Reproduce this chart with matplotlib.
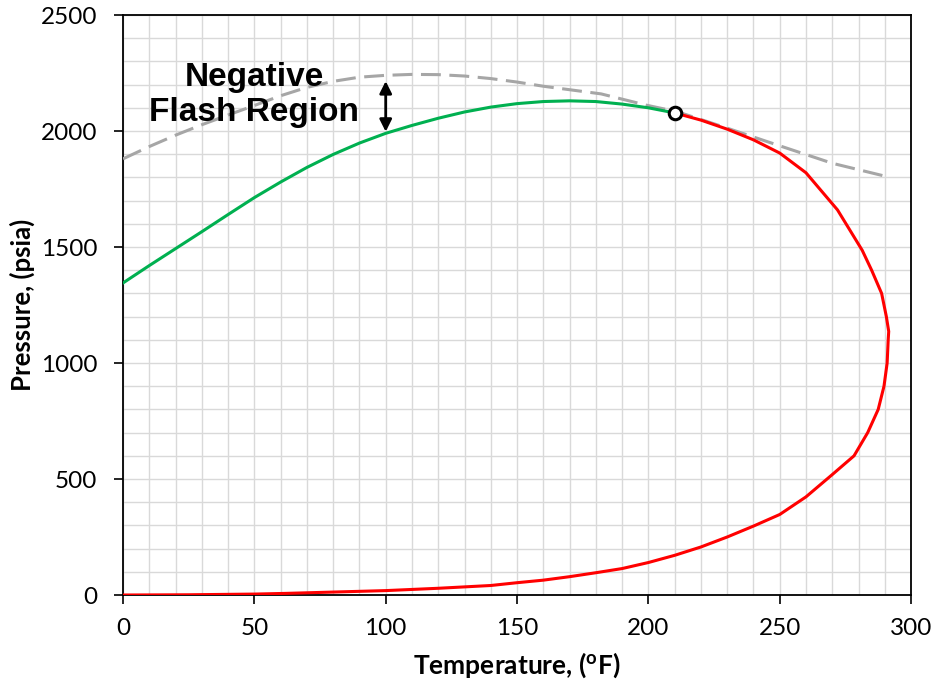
import numpy as np
import matplotlib.pyplot as plt
from matplotlib.ticker import MultipleLocator

# bubble point branch (green)
t_bub = [0, 10, 20, 30, 40, 50, 60, 70, 80, 90, 100, 110, 120, 130, 140,
         150, 160, 170, 180, 190, 200, 210]
p_bub = [1345, 1420, 1493, 1566, 1640, 1713, 1780, 1843, 1899, 1948, 1990,
         2024, 2055, 2082, 2103, 2118, 2127, 2130, 2127, 2116, 2100, 2078]

# dew point branch (red), from the critical point round to the origin
t_dew = [210, 220, 230, 240, 250, 260, 272, 281.4, 285, 288.8, 290.6, 291.5,
         291.3, 290.9, 289.7, 287.5, 283.5, 278.3, 270, 260, 250, 240,
         230, 220, 210, 200, 190, 180, 170, 160, 150, 140, 120, 100, 62, 50,
         25, 0]
p_dew = [2078, 2047, 2008, 1962, 1905, 1820, 1660, 1486, 1400, 1300, 1200, 1136,
         1100, 1000, 900, 800, 700, 600, 519, 423, 347, 297,
         250, 207, 171, 140, 114, 96, 79, 64, 53, 41, 29, 19, 7, 4,
         1, 0]

# gray dashed envelope
t_neg = [0, 10, 20, 30, 40, 50, 60, 70, 80, 90, 100, 110, 120, 130, 140,
         150, 160, 170, 182, 199, 211, 228.5, 249, 270, 289.5]
p_neg = [1880, 1933, 1982, 2027, 2069, 2110, 2152, 2188, 2214, 2232, 2240,
         2244, 2243, 2237, 2226, 2211, 2193, 2178, 2160, 2112, 2083, 2018,
         1940, 1861, 1807]

crit_t, crit_p = 210, 2078

plt.rcParams['font.family'] = ['Lato', 'DejaVu Sans']

fig = plt.figure(figsize=(9.37, 6.79), dpi=100)
ax = fig.add_axes([0.1313, 0.1237, 0.8410, 0.8542])

ax.plot(t_neg, p_neg, color='#a6a6a6', lw=2.2, dashes=(6.5, 2.8), zorder=3)
ax.plot(t_bub, p_bub, color='#00b050', lw=2.2, zorder=4)
ax.plot(t_dew, p_dew, color='#ff0000', lw=2.2, zorder=4)
ax.plot(crit_t, crit_p, 'o', ms=9, mfc='white', mec='black', mew=2.2, zorder=5)

ax.annotate('', xy=(100, 1997), xytext=(100, 2215),
            arrowprops=dict(arrowstyle='<|-|>', color='black', lw=2.0,
                            mutation_scale=18, shrinkA=0, shrinkB=0))
ax.text(50, 2155, 'Negative\nFlash Region', ha='center', va='center',
        fontsize=24, fontweight='bold', family=['Liberation Sans', 'DejaVu Sans'],
        zorder=6)

ax.set_xlim(0, 300)
ax.set_ylim(0, 2500)
ax.xaxis.set_major_locator(MultipleLocator(50))
ax.xaxis.set_minor_locator(MultipleLocator(10))
ax.yaxis.set_major_locator(MultipleLocator(500))
ax.yaxis.set_minor_locator(MultipleLocator(100))
ax.grid(which='both', color='#d9d9d9', lw=1.0, zorder=0)
ax.set_axisbelow(True)
ax.tick_params(which='major', direction='out', length=6.5, width=1.2, labelsize=17.5)
ax.tick_params(axis='x', which='major', pad=10)
ax.tick_params(axis='y', which='major', pad=12)
ax.tick_params(which='minor', length=0)
for s in ax.spines.values():
    s.set_color('black')
    s.set_linewidth(1.3)

ax.set_xlabel('Temperature, ($\\mathregular{^o}$F)', fontsize=19, fontweight='bold')
ax.set_ylabel('Pressure, (psia)', fontsize=18.5, fontweight='bold')
ax.xaxis.set_label_coords(0.5, -0.1207)
ax.yaxis.set_label_coords(-0.1275, 0.5)
ax.xaxis.label.set_va('center')
ax.yaxis.label.set_va('center')

fig.savefig('out.png', dpi=100)
